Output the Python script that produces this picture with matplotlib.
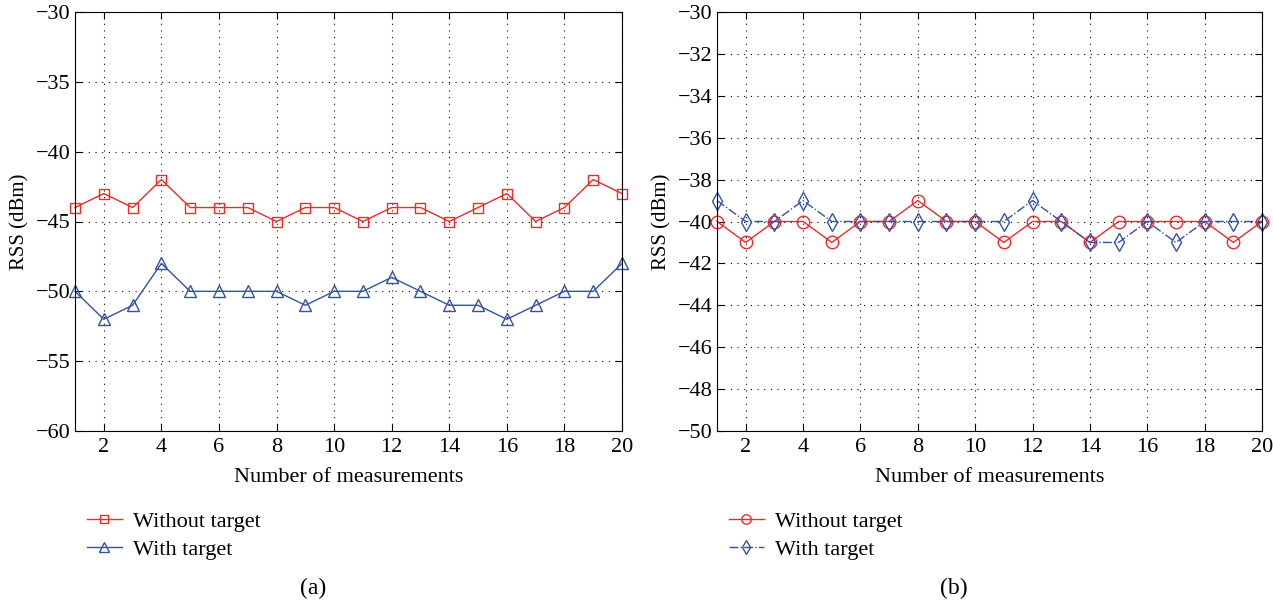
import matplotlib.pyplot as plt

plt.rcParams['font.family'] = ['Liberation Serif', 'DejaVu Serif']

measurements = list(range(1, 21))

# panel (a)
a_without = [-44, -43, -44, -42, -44, -44, -44, -45, -44, -44,
             -45, -44, -44, -45, -44, -43, -45, -44, -42, -43]
a_with = [-50, -52, -51, -48, -50, -50, -50, -50, -51, -50,
          -50, -49, -50, -51, -51, -52, -51, -50, -50, -48]

# panel (b)
b_without = [-40, -41, -40, -40, -41, -40, -40, -39, -40, -40,
             -41, -40, -40, -41, -40, -40, -40, -40, -41, -40]
b_with = [-39, -40, -40, -39, -40, -40, -40, -40, -40, -40,
          -40, -39, -40, -41, -41, -40, -41, -40, -40, -40]

red = '#f02a2a'
blue = '#3451a8'

fig = plt.figure(figsize=(12.73, 6.03), dpi=100)
ax1 = fig.add_axes([75 / 1273, 1 - 431 / 603, 547 / 1273, 419 / 603])
ax2 = fig.add_axes([717 / 1273, 1 - 431 / 603, 545 / 1273, 419 / 603])

ax1.plot(measurements, a_without, color=red, lw=1, marker='s', ms=7,
         mfc='none', mec=red, label='Without target', clip_on=False)
ax1.plot(measurements, a_with, color=blue, lw=1, marker='^', ms=9,
         mfc='none', mec=blue, label='With target', clip_on=False)
ax1.set_ylim(-60, -30)
ax1.set_yticks(range(-60, -29, 5))

ax2.plot(measurements, b_without, color=red, lw=1, marker='o', ms=9,
         mfc='none', mec=red, label='Without target', clip_on=False)
ax2.plot(measurements, b_with, color=blue, lw=1, ls='-.', marker='d', ms=9,
         mfc='none', mec=blue, label='With target', clip_on=False)
ax2.set_ylim(-50, -30)
ax2.set_yticks(range(-50, -29, 2))

for ax, tag in [(ax1, '(a)'), (ax2, '(b)')]:
    ax.set_xlim(1, 20)
    ax.set_xticks(range(2, 21, 2))
    ax.grid(True, color='black', ls=(0, (1, 5)), lw=0.8)
    ax.tick_params(direction='in', top=True, right=True, length=5,
                   labelsize=16, width=0.8)
    ax.tick_params(axis='x', pad=5)
    ax.yaxis.set_major_formatter(plt.FuncFormatter(lambda v, p: f'{v:.0f}'.replace('-', '\u2212')))
    ax.set_xlabel('Number of measurements', fontsize=16, labelpad=8)
    ax.set_ylabel('RSS (dBm)', fontsize=15, labelpad=4)
    for s in ax.spines.values():
        s.set_linewidth(0.8)
    ax.legend(loc='upper left', bbox_to_anchor=(0.005, -0.17), frameon=False,
              fontsize=16, handlelength=1.6, handletextpad=0.5,
              labelspacing=0.35, borderaxespad=0, markerscale=0.75)
    ax.text(0.435, -0.375, tag, transform=ax.transAxes, ha='center',
            va='center', fontsize=17)

fig.savefig('out.png', dpi=100)
